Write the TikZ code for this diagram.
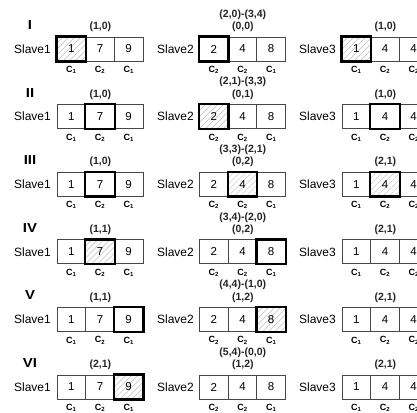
\documentclass[tikz,border=0pt]{standalone}
\usepackage{fontspec}
\setmainfont{Liberation Sans}
\usetikzlibrary{backgrounds,calc}
\definecolor{linegray}{gray}{0.28}
\definecolor{hatchgray}{gray}{0.75}
\tikzset{
  cellbox/.style={draw=linegray, line width=0.9pt, minimum width=28.67pt, minimum height=24pt, inner sep=0pt, font=\fontsize{11.5}{12}\selectfont},
  clabel/.style={inner sep=0pt, font=\fontsize{9}{10}\bfseries\selectfont},
  toplabel/.style={inner sep=0pt, font=\fontsize{10.5}{11}\bfseries\selectfont, text=black!85},
  slavename/.style={inner sep=0pt, anchor=east, font=\fontsize{12}{13}\selectfont},
  rowname/.style={inner sep=0pt, font=\fontsize{13}{14}\bfseries\selectfont, xscale=1.15},
  hot/.style={draw=black, line width=2.4pt},
  hatch/.style={draw=hatchgray, line width=0.5pt}
}
\newcommand\slaverow[6]{%
  \foreach \v/\c [count=\i] in {#4} {
    \node[cellbox] (#1c\i) at ({#2+14.33+28.67*(\i-1)}, #3) {\v};
    \node[clabel] (#1l\i) at ({#2+14.33+28.67*(\i-1)}, #3-21) {C\textsubscript{\c}};
  }
  \ifnum#5>0
    \ifnum#6=2
      \begin{pgfonlayer}{background}
        \begin{scope}
          \clip (#1c#5.south west) rectangle (#1c#5.north east);
          \foreach \d in {-30,-24,...,30}
            \draw[hatch] ($(#1c#5.south west)+(\d,0)$) -- ++(32,32);
        \end{scope}
      \end{pgfonlayer}
    \fi
    \draw[hot] (#1c#5.south west) rectangle (#1c#5.north east);
  \fi
}
\begin{document}
\begin{tikzpicture}[x=1pt,y=1pt]
\useasboundingbox (0,0) rectangle (417,412);
\clip (0,0) rectangle (417,412);
\begin{pgfonlayer}{background}
  \fill[white] (0,0) rectangle (417,412);
\end{pgfonlayer}
\foreach \k/\rn/\la/\ha/\hta/\tb/\lb/\hb/\htb/\lc/\hc/\htc in {
 1/I/{(1,0)}/1/2/{(2,0)-(3,4)}/{(0,0)}/1/1/{(1,0)}/1/2,
 2/II/{(1,0)}/2/1/{(2,1)-(3,3)}/{(0,1)}/1/2/{(1,0)}/2/1,
 3/III/{(1,0)}/2/1/{(3,3)-(2,1)}/{(0,2)}/2/2/{(2,1)}/2/2,
 4/IV/{(1,1)}/2/2/{(3,4)-(2,0)}/{(0,2)}/3/1/{(2,1)}/0/0,
 5/V/{(1,1)}/3/1/{(4,4)-(1,0)}/{(1,2)}/3/2/{(2,1)}/0/0,
 6/VI/{(2,1)}/3/2/{(5,4)-(0,0)}/{(1,2)}/0/0/{(2,1)}/0/0}
{
  \pgfmathsetmacro\yc{412-49-67.6*(\k-1)}
  \node[rowname] (rn\k) at (30, \yc+24) {\rn};
  % Slave1
  \node[slavename] (n\k a) at (51, \yc) {Slave1};
  \slaverow{r\k a}{57}{\yc}{1/1,7/2,9/1}{\ha}{\hta}
  \node[toplabel] (t\k a) at (100.33, \yc+22) {\la};
  % Slave2
  \node[slavename] (n\k b) at (194, \yc) {Slave2};
  \slaverow{r\k b}{199.5}{\yc}{2/2,4/2,8/1}{\hb}{\htb}
  \node[toplabel] (t\k b) at (242.8, \yc+22) {\lb};
  \node[toplabel] (u\k b) at (242.8, \yc+34.5) {\tb};
  % Slave3
  \node[slavename] (n\k c) at (336, \yc) {Slave3};
  \slaverow{r\k c}{342}{\yc}{1/1,4/2,4/2}{\hc}{\htc}
  \node[toplabel] (t\k c) at (385.3, \yc+22) {\lc};
}
\end{tikzpicture}
\end{document}
